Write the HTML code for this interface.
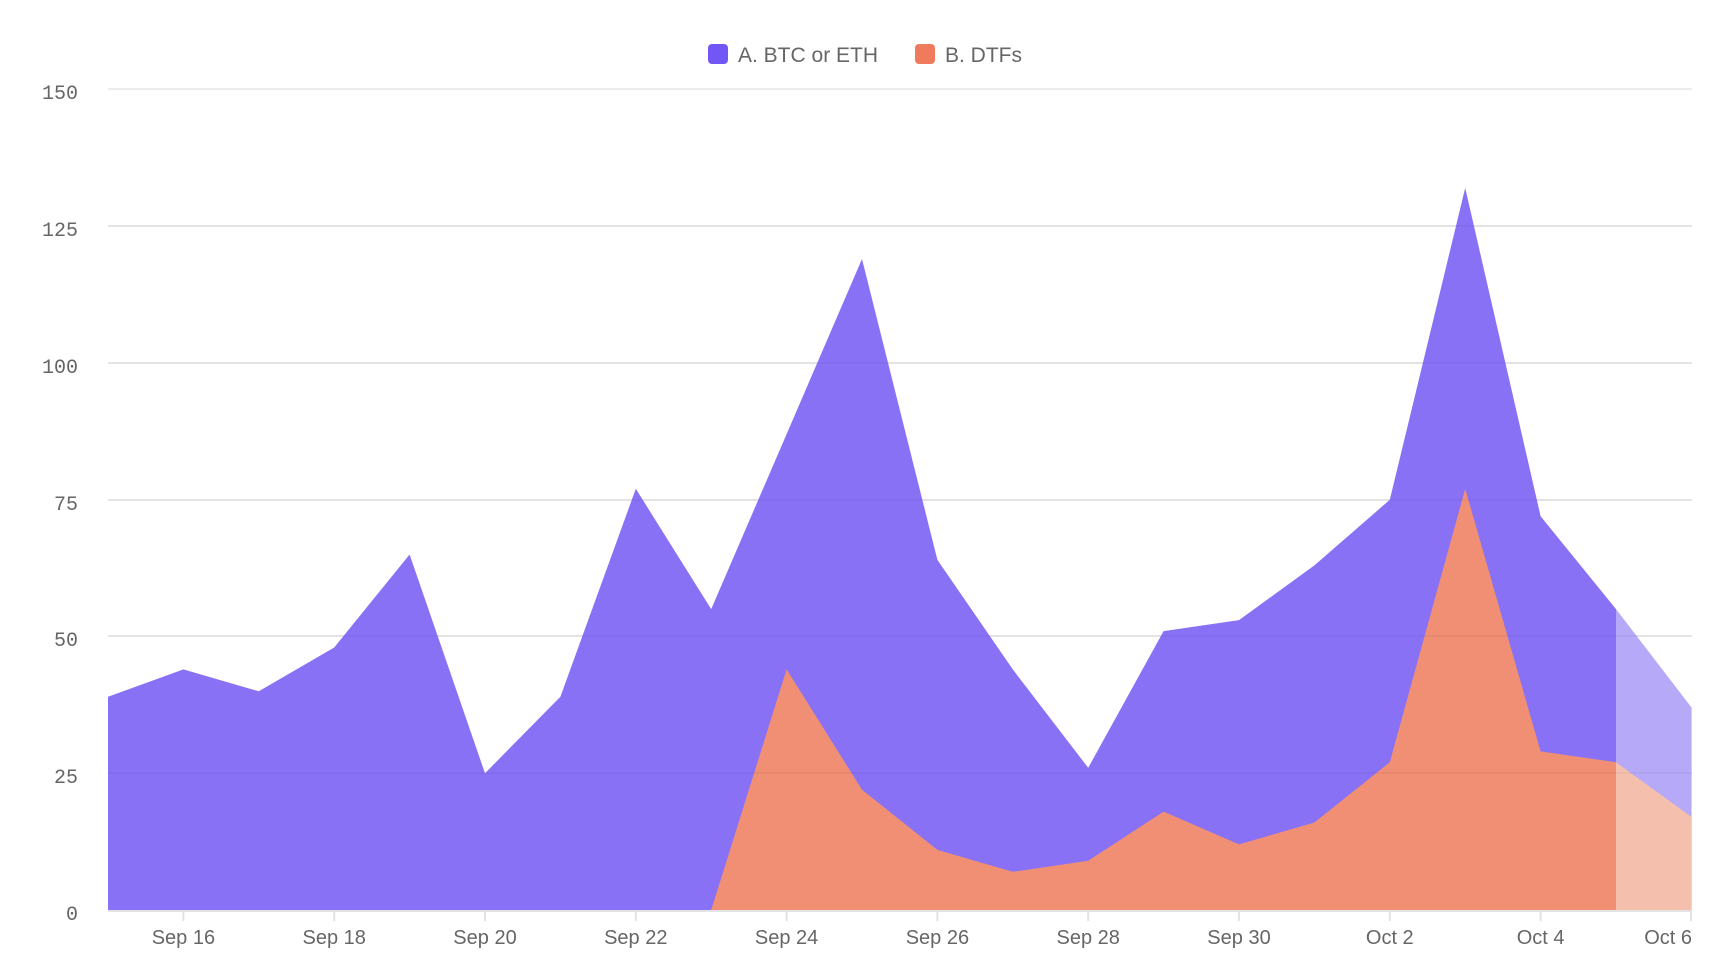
<!DOCTYPE html>
<html><head><meta charset="utf-8"><style>
html,body{margin:0;padding:0;background:#fff;}
svg{display:block}
text{font-family:"Liberation Sans",sans-serif;}
</style></head><body>
<svg width="1720" height="962" xmlns="http://www.w3.org/2000/svg">
<defs><clipPath id="c"><rect x="0" y="0" width="1616" height="962"/></clipPath>
<clipPath id="r"><rect x="1616" y="0" width="200" height="962"/></clipPath></defs>
<g id="grid" stroke="#e6e6e6" stroke-width="1.5">
<line x1="108" x2="1692" y1="89" y2="89"/>
<line x1="108" x2="1692" y1="226" y2="226"/>
<line x1="108" x2="1692" y1="363" y2="363"/>
<line x1="108" x2="1692" y1="500" y2="500"/>
<line x1="108" x2="1692" y1="636" y2="636"/>
<line x1="108" x2="1692" y1="773" y2="773"/>
</g>
<g clip-path="url(#c)">
<polygon fill="#8971f6" points="108,910 108,696.7 183.4,669.4 258.8,691.3 334.2,647.5 409.6,554.5 485,773.3 560.4,696.7 635.8,488.8 711.2,609.1 786.6,434.1 862,259 937.4,559.9 1012.8,669.4 1088.2,767.8 1163.6,631.1 1239,620.1 1314.4,565.4 1389.8,499.8 1465.2,187.9 1540.6,516.2 1616,609.1 1691.6,707.6 1691.6,910"/>
<polygon fill="#f08f74" points="711.2,910 786.6,669.4 862,789.7 937.4,849.9 1012.8,871.8 1088.2,860.8 1163.6,811.6 1239,844.4 1314.4,822.5 1389.8,762.3 1465.2,488.8 1540.6,751.4 1616,762.3 1691.6,817 1691.6,910"/>
</g>
<g clip-path="url(#r)">
<polygon fill="#b5a9f8" points="1616,910 1616,609.1 1691.6,707.6 1691.6,910"/>
<polygon fill="#f5bfae" points="1616,910 1616,762.3 1691.6,817 1691.6,910"/>
</g>
<g stroke="rgba(0,0,0,0.05)" stroke-width="1.5">
<line x1="108" x2="1692" y1="500" y2="500"/>
<line x1="108" x2="1692" y1="636" y2="636"/>
<line x1="108" x2="1692" y1="773" y2="773"/>
<line x1="108" x2="1692" y1="226" y2="226"/>
<line x1="108" x2="1692" y1="363" y2="363"/>
</g>
<line x1="108" x2="1692" y1="911" y2="911" stroke="#e3e3e3" stroke-width="2"/>
<g stroke="#e3e3e3" stroke-width="2">
<line x1="183.4" x2="183.4" y1="911" y2="921"/><line x1="334.2" x2="334.2" y1="911" y2="921"/><line x1="485" x2="485" y1="911" y2="921"/><line x1="635.8" x2="635.8" y1="911" y2="921"/><line x1="786.6" x2="786.6" y1="911" y2="921"/><line x1="937.4" x2="937.4" y1="911" y2="921"/><line x1="1088.2" x2="1088.2" y1="911" y2="921"/><line x1="1239" x2="1239" y1="911" y2="921"/><line x1="1389.8" x2="1389.8" y1="911" y2="921"/><line x1="1540.6" x2="1540.6" y1="911" y2="921"/><line x1="1691" x2="1691" y1="911" y2="921"/>
</g>
<g font-family="Liberation Mono, monospace" font-size="20" fill="#666" text-anchor="end">
<text x="78" y="99" style="font-family:'Liberation Mono',monospace">150</text>
<text x="78" y="236" style="font-family:'Liberation Mono',monospace">125</text>
<text x="78" y="373" style="font-family:'Liberation Mono',monospace">100</text>
<text x="78" y="510" style="font-family:'Liberation Mono',monospace">75</text>
<text x="78" y="646" style="font-family:'Liberation Mono',monospace">50</text>
<text x="78" y="783" style="font-family:'Liberation Mono',monospace">25</text>
<text x="78" y="920" style="font-family:'Liberation Mono',monospace">0</text>
</g>
<g font-size="20" fill="#666" text-anchor="middle">
<text x="183.4" y="944">Sep 16</text><text x="334.2" y="944">Sep 18</text><text x="485" y="944">Sep 20</text><text x="635.8" y="944">Sep 22</text><text x="786.6" y="944">Sep 24</text><text x="937.4" y="944">Sep 26</text><text x="1088.2" y="944">Sep 28</text><text x="1239" y="944">Sep 30</text><text x="1389.8" y="944">Oct 2</text><text x="1540.6" y="944">Oct 4</text><text x="1692" y="944" text-anchor="end">Oct 6</text>
</g>
<rect x="708" y="44" width="20" height="20" rx="4" fill="#7357f6"/>
<text x="738" y="62" font-size="21" fill="#666">A. BTC or ETH</text>
<rect x="915" y="44" width="20" height="20" rx="4" fill="#ef7b5c"/>
<text x="945" y="62" font-size="21" fill="#666">B. DTFs</text>
</svg>
</body></html>
